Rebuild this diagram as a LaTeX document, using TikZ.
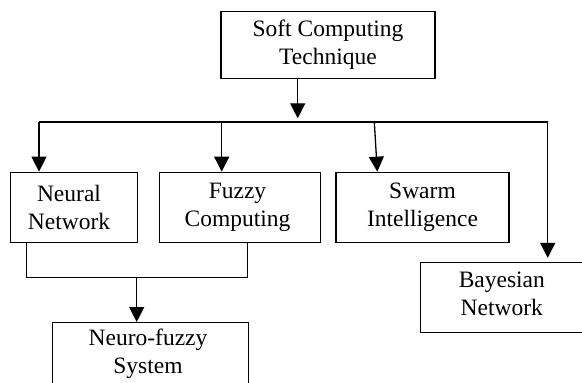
\documentclass[tikz,border=0pt]{standalone}
\usepackage{fontspec}
\setmainfont{Liberation Serif}
\usetikzlibrary{arrows.meta,calc}
\begin{document}
\begin{tikzpicture}[x=1pt,y=-1pt,
  box/.style={draw=black,line width=1.3pt,rectangle,inner sep=0pt,align=center,
    font=\fontsize{23.5}{28}\selectfont,text=black},
  ln/.style={draw=black,line width=1.3pt},
  arr/.style={ln,-{Triangle[width=15pt,length=15pt]}}]
\useasboundingbox (0,0) rectangle (582,383);
\node[box,minimum width=214pt,minimum height=66.6pt] (top) at (328,45) {Soft Computing\\Technique};
\node[box,minimum width=126.6pt,minimum height=70pt] (nn) at (74,207.3) {\hspace*{-10pt}Neural\\\hspace*{-10pt}Network};
\node[box,minimum width=161.4pt,minimum height=70pt] (fc) at (240,207.3) {\hspace*{-5pt}Fuzzy\\\hspace*{-5pt}Computing};
\node[box,minimum width=173pt,minimum height=70pt] (sw) at (422.5,207.3) {Swarm\\Intelligence};
\node[box,minimum width=162.3pt,minimum height=69.6pt] (bn) at (501.85,297.5) {Bayesian\\Network\strut};
\node[box,minimum width=195.6pt,minimum height=61.6pt] (nf) at (150.5,353.5) {\hspace*{-5pt}Neuro-fuzzy\\\hspace*{-5pt}System};
\coordinate (jL) at (39,122);
\coordinate (jT) at (297.7,122);
\coordinate (jF) at (221.7,122);
\coordinate (jS) at (374.3,122);
\coordinate (jR) at (547.7,122);
\coordinate (m1) at (26.7,277.7);
\coordinate (mA) at (136.7,277.7);
\coordinate (m2) at (247.3,277.7);
\draw[arr,shorten >=3.7pt] (jT |- top.south) -- (jT);
\draw[ln] (jL) -- (jR);
\draw[arr] (jL) -- (jL |- nn.north);
\draw[arr] (jF) -- (jF |- fc.north);
\draw[arr] (jS) -- ($(jS |- sw.north)+(3,0)$);
\draw[arr,shorten >=4.2pt] (jR) -- (jR |- bn.north);
\draw[ln] (m1 |- nn.south) -- (m1) -- (m2) -- (m2 |- fc.south);
\draw[arr] (mA) -- (mA |- nf.north);
\end{tikzpicture}
\end{document}
